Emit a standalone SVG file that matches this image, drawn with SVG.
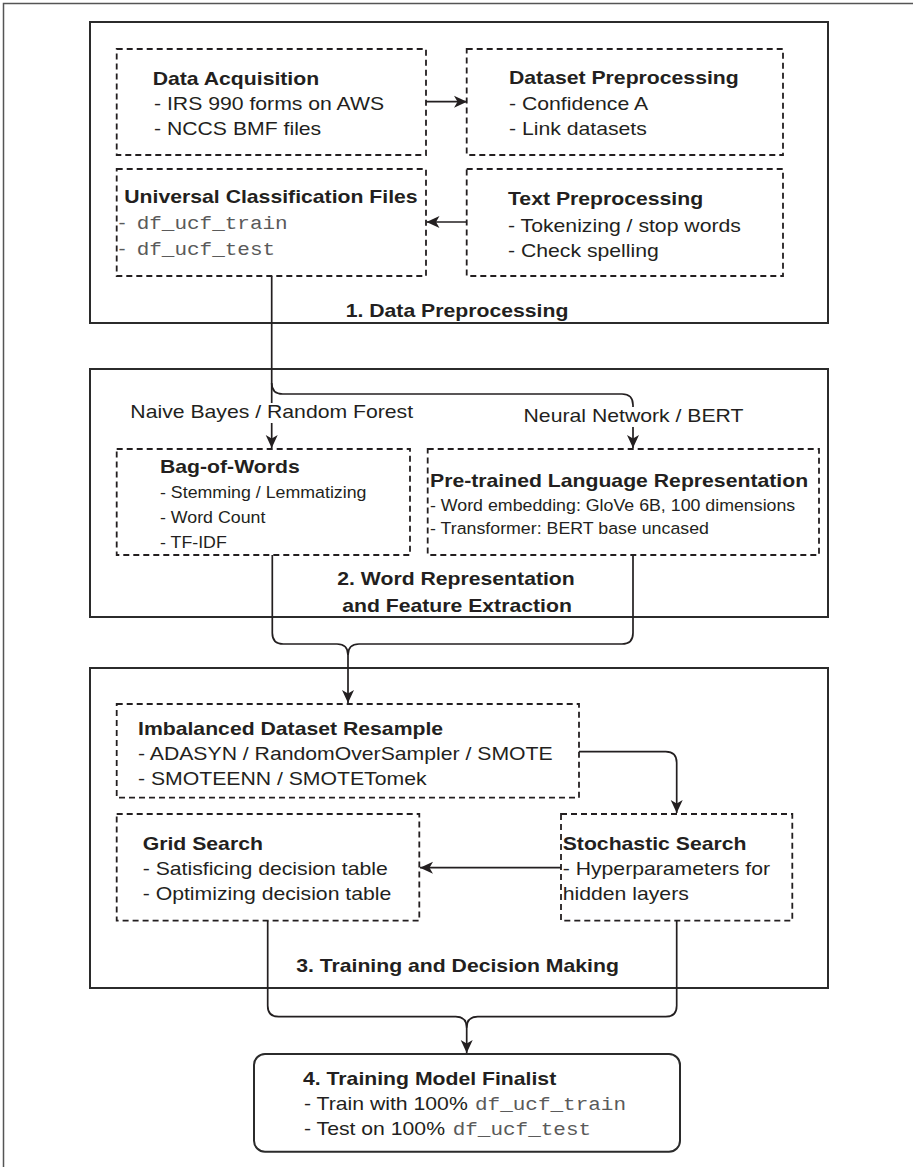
<svg xmlns="http://www.w3.org/2000/svg" width="913" height="1167" viewBox="0 0 913 1167">
<style>
.frame{fill:none;stroke:#555;stroke-width:1.5}
.sec{fill:none;stroke:#2b2b2b;stroke-width:2}
.dash{fill:none;stroke:#231f20;stroke-width:1.8;stroke-dasharray:6 4}
.edge{fill:none;stroke:#231f20;stroke-width:1.7}
.t{font-family:"Liberation Sans",Arial,Helvetica,sans-serif;font-size:18.6px;fill:#231f20}
.b{font-family:"Liberation Sans",Arial,Helvetica,sans-serif;font-size:18.6px;font-weight:bold;fill:#231f20}
.s{font-family:"Liberation Sans",Arial,Helvetica,sans-serif;font-size:15.6px;fill:#231f20}
.m{font-family:"Liberation Mono","Courier New",monospace;font-size:18.4px;fill:#5a5a5a}
.g{font-family:"Liberation Sans",Arial,Helvetica,sans-serif;font-size:18.6px;fill:#5a5a5a}
.mid{text-anchor:middle}
</style>
<defs>
<marker id="arr" markerUnits="userSpaceOnUse" markerWidth="14" markerHeight="14" refX="13" refY="7" orient="auto">
<path d="M0,1 L13,7 L0,13 L3.5,7 Z" fill="#231f20"/>
</marker>
</defs>
<rect class="frame" x="3.5" y="3.5" width="940" height="1200"/>

<g id="section1">
<rect class="sec" x="90" y="22" width="738" height="301"/>
<text class="b mid" transform="translate(457,317) scale(1.14,1)">1. Data Preprocessing</text>
</g>
<g id="section2">
<rect class="sec" x="90" y="369" width="738" height="248"/>
<text class="b mid" transform="translate(456,585) scale(1.14,1)">2. Word Representation</text>
<text class="b mid" transform="translate(457,611.5) scale(1.14,1)">and Feature Extraction</text>
</g>
<g id="section3">
<rect class="sec" x="90" y="668" width="738" height="320"/>
<text class="b mid" transform="translate(457.5,971.7) scale(1.14,1)">3. Training and Decision Making</text>
</g>

<g id="connectors">
<path class="edge" d="M426,101.7 H467" marker-end="url(#arr)"/>
<path class="edge" d="M466.7,222 H426.5" marker-end="url(#arr)"/>
<path class="edge" d="M271.7,276 V448" marker-end="url(#arr)"/>
<path class="edge" d="M271.7,383 Q271.7,394 282.7,394 H622 Q633,394 633,405 V448" marker-end="url(#arr)"/>
<path class="edge" d="M272.3,555 V633 Q272.3,644 283.3,644 H337 Q348,644 348,655 V703" marker-end="url(#arr)"/>
<path class="edge" d="M633,555 V633 Q633,644 622,644 H359 Q348,644 348,655"/>
<path class="edge" d="M579,751.7 H665.7 Q676.7,751.7 676.7,762.7 V813" marker-end="url(#arr)"/>
<path class="edge" d="M561,867.7 H420" marker-end="url(#arr)"/>
<path class="edge" d="M267.7,920.7 V1005.7 Q267.7,1016.7 278.7,1016.7 H455.7 Q466.7,1016.7 466.7,1027.7 V1053" marker-end="url(#arr)"/>
<path class="edge" d="M676.7,920.7 V1005.7 Q676.7,1016.7 665.7,1016.7 H477.7 Q466.7,1016.7 466.7,1027.7"/>
<rect x="130" y="403" width="283" height="20" fill="#fff"/>
<text class="t mid" transform="translate(271.7,418) scale(1.14,1)">Naive Bayes / Random Forest</text>
<rect x="524" y="407" width="219" height="20" fill="#fff"/>
<text class="t mid" transform="translate(633.5,422) scale(1.14,1)">Neural Network / BERT</text>
</g>

<g id="data-acquisition">
<rect class="dash" x="116.7" y="49" width="309.3" height="106"/>
<text class="b" transform="translate(152.7,84.5) scale(1.14,1)">Data Acquisition</text>
<text class="t" transform="translate(154,110) scale(1.14,1)">- IRS 990 forms on AWS</text>
<text class="t" transform="translate(154,135) scale(1.14,1)">- NCCS BMF files</text>
</g>
<g id="dataset-preprocessing">
<rect class="dash" x="466.7" y="49" width="316.3" height="106"/>
<text class="b" transform="translate(509,83.5) scale(1.14,1)">Dataset Preprocessing</text>
<text class="t" transform="translate(509,110) scale(1.14,1)">- Confidence A</text>
<text class="t" transform="translate(509,135) scale(1.14,1)">- Link datasets</text>
</g>
<g id="universal-classification-files">
<rect class="dash" x="116.7" y="169" width="309.3" height="107"/>
<text class="b" transform="translate(124.3,203) scale(1.14,1)">Universal Classification Files</text>
<text class="g" transform="translate(118.5,229) scale(1.14,1)">-</text>
<text class="m" transform="translate(136.7,229) scale(1.14,1)">df_ucf_train</text>
<text class="g" transform="translate(118.5,255) scale(1.14,1)">-</text>
<text class="m" transform="translate(136.7,255) scale(1.14,1)">df_ucf_test</text>
</g>
<g id="text-preprocessing">
<rect class="dash" x="466.7" y="169" width="316.3" height="107"/>
<text class="b" transform="translate(508,205) scale(1.14,1)">Text Preprocessing</text>
<text class="t" transform="translate(508,232) scale(1.14,1)">- Tokenizing / stop words</text>
<text class="t" transform="translate(508,257) scale(1.14,1)">- Check spelling</text>
</g>

<g id="bag-of-words">
<rect class="dash" x="116.7" y="449" width="293.3" height="106"/>
<text class="b" transform="translate(160,473) scale(1.14,1)">Bag-of-Words</text>
<text class="s" transform="translate(160,498) scale(1.14,1)">- Stemming / Lemmatizing</text>
<text class="s" transform="translate(160,523) scale(1.14,1)">- Word Count</text>
<text class="s" transform="translate(160,548) scale(1.14,1)">- TF-IDF</text>
</g>
<g id="pretrained-language-representation">
<rect class="dash" x="427.7" y="449" width="391.3" height="106"/>
<text class="b" transform="translate(430,487) scale(1.14,1)">Pre-trained Language Representation</text>
<text class="s" transform="translate(430,511) scale(1.14,1)">- Word embedding: GloVe 6B, 100 dimensions</text>
<text class="s" transform="translate(430,534) scale(1.14,1)">- Transformer: BERT base uncased</text>
</g>

<g id="imbalanced-dataset-resample">
<rect class="dash" x="116.7" y="704" width="462.3" height="93.7"/>
<text class="b" transform="translate(138,735) scale(1.14,1)">Imbalanced Dataset Resample</text>
<text class="t" transform="translate(138,760) scale(1.14,1)">- ADASYN / RandomOverSampler / SMOTE</text>
<text class="t" transform="translate(138,785) scale(1.14,1)">- SMOTEENN / SMOTETomek</text>
</g>
<g id="grid-search">
<rect class="dash" x="116.7" y="814" width="302.6" height="106.7"/>
<text class="b" transform="translate(142.7,850) scale(1.14,1)">Grid Search</text>
<text class="t" transform="translate(142.7,875) scale(1.14,1)">- Satisficing decision table</text>
<text class="t" transform="translate(142.7,900) scale(1.14,1)">- Optimizing decision table</text>
</g>
<g id="stochastic-search">
<rect class="dash" x="561" y="814" width="231.3" height="106.7"/>
<text class="b" transform="translate(562.7,850) scale(1.14,1)">Stochastic Search</text>
<text class="t" transform="translate(562.7,875) scale(1.14,1)">- Hyperparameters for</text>
<text class="t" transform="translate(562.7,900) scale(1.14,1)">hidden layers</text>
</g>

<g id="training-model-finalist">
<rect class="sec" x="254" y="1054" width="426" height="97.7" rx="11"/>
<text class="b" transform="translate(303,1085) scale(1.14,1)">4. Training Model Finalist</text>
<text class="t" transform="translate(304,1110) scale(1.14,1)">- Train with 100%</text>
<text class="m" transform="translate(475,1110) scale(1.14,1)">df_ucf_train</text>
<text class="t" transform="translate(304,1135) scale(1.14,1)">- Test on 100%</text>
<text class="m" transform="translate(452.7,1135) scale(1.14,1)">df_ucf_test</text>
</g>
</svg>
